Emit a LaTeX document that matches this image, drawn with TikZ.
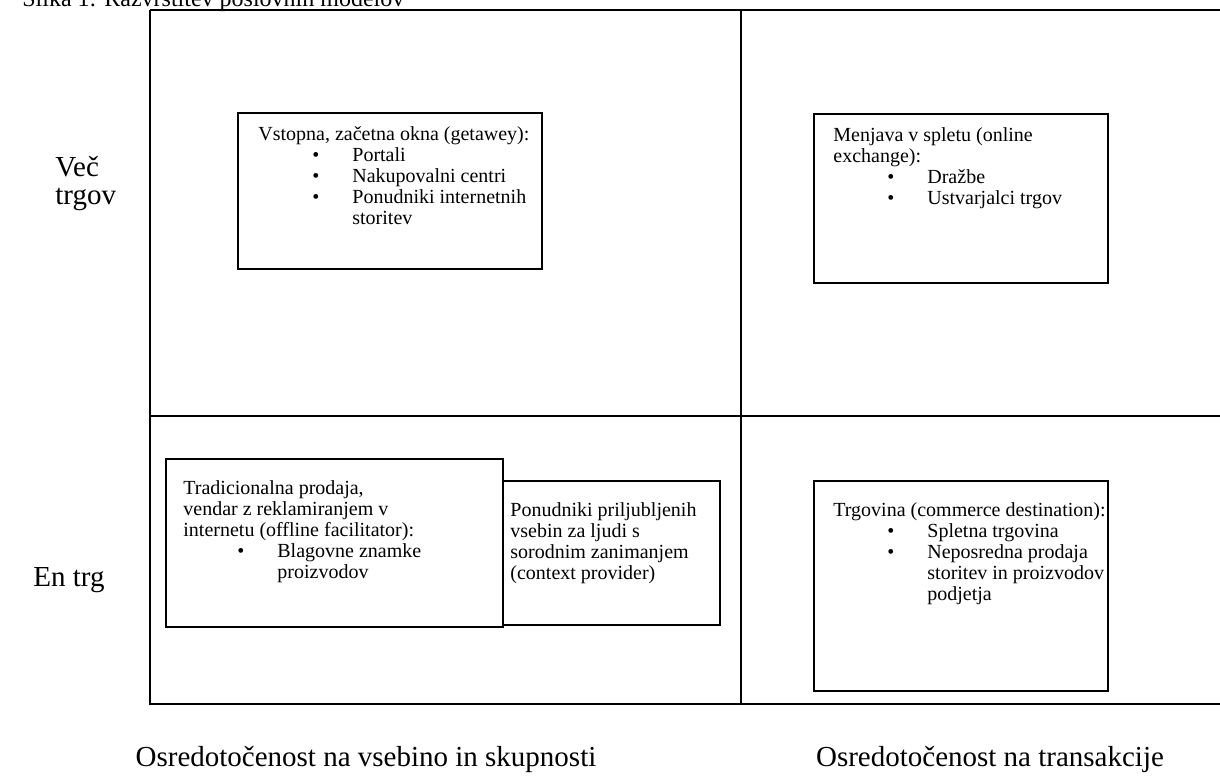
\documentclass[tikz,border=0pt]{standalone}
\usepackage{fontspec}
\setmainfont{Liberation Serif}
\usetikzlibrary{positioning}

% bullet and continuation indent inside the boxes
\newcommand{\bul}{\hspace*{27pt}\makebox[20pt][l]{\textbullet}}
\newcommand{\cont}{\hspace*{47pt}}

\begin{document}
\begin{tikzpicture}[x=0.5pt,y=0.5pt]
		\tikzstyle{every node}+=[inner sep=0pt]
		\tikzstyle{box}=[draw, line width=0.8pt, fill=white, anchor=north west]
		\tikzstyle{boxtxt}=[anchor=north west, align=left, font=\fontsize{10}{10.5}\selectfont]
		\tikzstyle{axis}=[font=\fontsize{14.5}{12.5}\selectfont]
		\clip (0,0) rectangle (1220,-777);
		% caption, cut off at the top
		\node [anchor=base west, font=\fontsize{12}{14}\selectfont] (cap) at (22,-6) {Slika 1: Razvrstitev poslovnih modelov};
		% frame
		\draw [black, line width=1pt] (150,-10) -- (1220,-10);
		\draw [black, line width=1pt] (150,-10) -- (150,-704) -- (1220,-704);
		\draw [black, line width=1pt] (150,-416) -- (1220,-416);
		\draw [black, line width=1pt] (741,-10) -- (741,-704);
		% top left
		\node [box, minimum width=152pt, minimum height=78pt] (vstop) at (237,-112) {};
		\node [boxtxt] (vstoptxt) at ([xshift=10.5pt,yshift=-7pt]vstop.north west) {Vstopna, za\v{c}etna okna (getawey):\\ \bul Portali\\ \bul Nakupovalni centri\\ \bul Ponudniki internetnih\\ \cont storitev};
		% top right
		\node [box, minimum width=147pt, minimum height=84.5pt] (menj) at (813,-113) {};
		\node [boxtxt] (menjtxt) at ([xshift=10pt,yshift=-7pt]menj.north west) {Menjava v spletu (online\\ exchange):\\ \bul Dra\v{z}be\\ \bul Ustvarjalci trgov};
		% bottom left, context box first so the other one covers its edge
		\node [box, minimum width=109.5pt, minimum height=72pt] (kont) at (500,-480) {};
		\node [boxtxt] (konttxt) at ([xshift=5pt,yshift=-11pt]kont.north west) {Ponudniki priljubljenih\\ vsebin za ljudi s\\ sorodnim zanimanjem\\ (context provider)};
		\node [box, minimum width=168.5pt, minimum height=84pt] (trad) at (165,-458) {};
		\node [boxtxt] (tradtxt) at ([xshift=9pt,yshift=-11pt]trad.north west) {Tradicionalna prodaja,\\ vendar z reklamiranjem v\\ internetu (offline facilitator):\\ \bul Blagovne znamke\\ \cont proizvodov};
		% bottom right
		\node [box, minimum width=147pt, minimum height=105pt] (trgo) at (813,-480) {};
		\node [boxtxt] (trgotxt) at ([xshift=10pt,yshift=-11pt]trgo.north west) {Trgovina (commerce destination):\\ \bul Spletna trgovina\\ \bul Neposredna prodaja\\ \cont storitev in proizvodov\\ \cont podjetja};
		% axis labels
		\node [axis, anchor=north west, align=left] (vec) at (55,-156) {Ve\v{c}\\[1.5pt] trgov};
		\node [axis, anchor=base west] (en) at (33,-586) {En trg};
		\node [axis, anchor=base] (vseb) at (366,-766) {Osredoto\v{c}enost na vsebino in skupnosti};
		\node [axis, anchor=base] (trans) at (990,-766) {Osredoto\v{c}enost na transakcije};
	\end{tikzpicture}
\end{document}
